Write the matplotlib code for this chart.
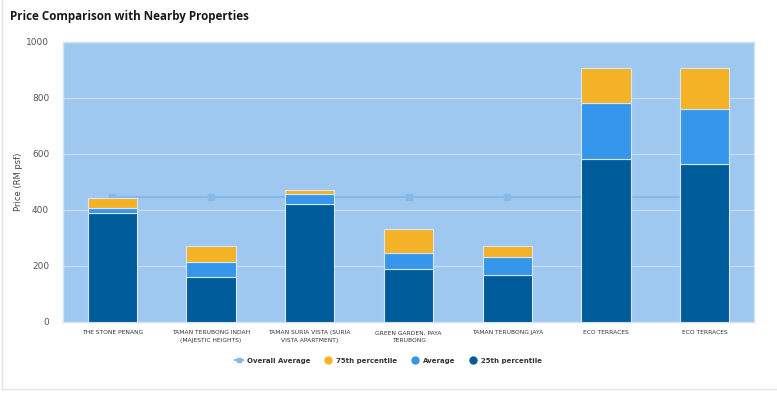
import numpy as np
import matplotlib.pyplot as plt
from matplotlib.lines import Line2D

# dados
categorias = ["THE STONE PENANG", "TAMAN TERUBONG INDAH\n(MAJESTIC HEIGHTS)",
              "TAMAN SURIA VISTA (SURIA\nVISTA APARTMENT)", "GREEN GARDEN, PAYA\nTERUBONG",
              "TAMAN TERUBONG JAYA", "ECO TERRACES", "ECO TERRACES"]
p25 = [388, 161, 420, 190, 168, 583, 563]
media = [406, 213, 456, 248, 231, 781, 761]
p75 = [442, 271, 470, 333, 271, 906, 906]
media_geral = [446, 446, 446, 446, 446, 446, 446]

cor_escuro = "#005b9a"
cor_azul = "#3696eb"
cor_laranja = "#f4b227"
cor_fundo = "#9fc8f0"
cor_linha = "#86b8e8"

fig = plt.figure(figsize=(7.77, 3.93), dpi=100)
ax = fig.add_axes([0.0811, 0.1807, 0.8893, 0.7125])
ax.set_facecolor(cor_fundo)

x = np.arange(len(categorias))
w = 0.5

ax.plot(x, media_geral, color=cor_linha, lw=1.5, marker="s", markersize=4, zorder=1)

base = np.zeros(len(x))
camadas = [(p25, cor_escuro), (media, cor_azul), (p75, cor_laranja)]
for valores, cor in camadas:
    alturas = np.array(valores) - base
    ax.bar(x, alturas, w, bottom=base, color=cor, edgecolor="#d6e6f5", linewidth=0.8, zorder=3)
    base = np.array(valores, dtype=float)

ax.set_xlim(-0.5, len(x) - 0.5)
ax.set_ylim(0, 1000)
ax.set_yticks([0, 200, 400, 600, 800, 1000])
ax.yaxis.grid(True, color="#c6dcf2", lw=0.9, zorder=0)
ax.set_axisbelow(True)
for s in ax.spines.values():
    s.set_color("#d0e2f4")
    s.set_linewidth(1)

ax.tick_params(axis="y", length=0, labelsize=6.5, labelcolor="#555555", pad=10)
ax.tick_params(axis="x", length=0, labelsize=4.3, labelcolor="#333333", pad=6)
ax.set_xticks(x)
ax.set_xticklabels(categorias, linespacing=1.6, va="top")
ax.set_ylabel("Price (RM psf)", fontsize=6, color="#444444")
ax.yaxis.set_label_coords(-0.058, 0.5)

fig.text(0.013, 0.957, "Price Comparison with Nearby Properties", fontsize=8.4,
         fontweight="bold", color="#1a1a1a", va="center", family="Open Sans")

handles = [
    Line2D([0], [0], color=cor_linha, lw=1.5, marker="s", markersize=3.5),
    Line2D([0], [0], color="none", marker="o", markersize=5, markerfacecolor=cor_laranja, markeredgecolor=cor_laranja),
    Line2D([0], [0], color="none", marker="o", markersize=5, markerfacecolor=cor_azul, markeredgecolor=cor_azul),
    Line2D([0], [0], color="none", marker="o", markersize=5, markerfacecolor=cor_escuro, markeredgecolor=cor_escuro),
]
nomes = ["Overall Average", "75th percentile", "Average", "25th percentile"]
leg = fig.legend(handles, nomes, loc="center", bbox_to_anchor=(0.5, 0.082), ncol=4, frameon=False,
                 fontsize=5, handlelength=1.1, handletextpad=0.6, columnspacing=2.0)
for t in leg.get_texts():
    t.set_fontweight("semibold")
    t.set_color("#333333")

# borda do cartão
fig.add_artist(Line2D([0.003, 0.003], [0.01, 1], transform=fig.transFigure, color="#e2e2e2", lw=1))
fig.add_artist(Line2D([0.003, 1], [0.01, 0.01], transform=fig.transFigure, color="#e2e2e2", lw=1))

fig.savefig("out.png", dpi=100)
